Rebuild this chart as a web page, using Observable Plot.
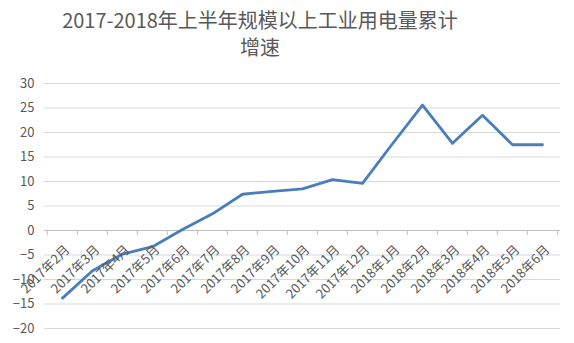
<!DOCTYPE html>
<html>
<head>
<meta charset="utf-8">
<script src="https://cdn.jsdelivr.net/npm/d3@7"></script>
<script src="https://cdn.jsdelivr.net/npm/@observablehq/plot@0.6"></script>
<style>
  html, body { margin: 0; padding: 0; background: #fff; }
  #title { width: 574px; height: 70px; box-sizing: border-box; padding-top: 6px; padding-right: 54px; text-align: center;
    font-family: "Noto Sans CJK SC", "Noto Sans", sans-serif; font-size: 20px; line-height: 27px; color: #595959; }
  #chart svg { display: block; }
</style>
</head>
<body>
<div id="title">2017-2018年上半年规模以上工业用电量累计<br>增速</div>
<div id="chart"></div>
<script>
const months = ["2017年2月","2017年3月","2017年4月","2017年5月","2017年6月","2017年7月","2017年8月","2017年9月","2017年10月","2017年11月","2017年12月","2018年1月","2018年2月","2018年3月","2018年4月","2018年5月","2018年6月"];
const growth = [-13.8, -8.2, -4.8, -3.3, 0.2, 3.4, 7.4, 8.0, 8.5, 10.4, 9.6, 17.7, 25.6, 17.8, 23.5, 17.5, 17.5];
const yTicks = [-20, -15, -10, -5, 0, 5, 10, 15, 20, 25, 30];

const data = months.map((m, i) => ({month: m, value: growth[i]}));
const width = 574, marginLeft = 44, marginRight = 14;
const step = (width - marginLeft - marginRight) / months.length;

const chart = Plot.plot({
  width, height: 273,
  marginLeft, marginRight, marginTop: 13, marginBottom: 15,
  style: {fontFamily: "'Noto Sans CJK SC', 'Noto Sans', sans-serif", fontSize: "13px", color: "#595959", background: "#fff"},
  x: {type: "band", domain: months, padding: 0, axis: null},
  y: {domain: [-20, 30], ticks: yTicks, axis: null},
  marks: [
    Plot.gridY(yTicks, {stroke: "#d9d9d9", strokeOpacity: 1, strokeWidth: 1}),
    Plot.axisY(yTicks, {tickSize: 0, tickPadding: 10, fontSize: 13, fill: "#595959", label: null}),
    Plot.ruleY([0], {stroke: "#bfbfbf", strokeWidth: 1}),
    Plot.ruleX(months, {x: d => d, y1: 0, y2: 0, dx: -step / 2, insetBottom: -5, stroke: "#bfbfbf"}),
    Plot.ruleX([months[months.length - 1]], {x: d => d, y1: 0, y2: 0, dx: step / 2, insetBottom: -5, stroke: "#bfbfbf"}),
    Plot.line(data, {x: "month", y: "value", stroke: "#4a7ebb", strokeWidth: 2.8, strokeLinejoin: "round", curve: "linear"}),
    Plot.text(months, {x: d => d, y: 0, text: d => d, rotate: -45, textAnchor: "end", lineAnchor: "middle", dx: 5, dy: 17, fontSize: 13, fill: "#595959"})
  ]
});
document.getElementById("chart").appendChild(chart);
</script>
</body>
</html>
